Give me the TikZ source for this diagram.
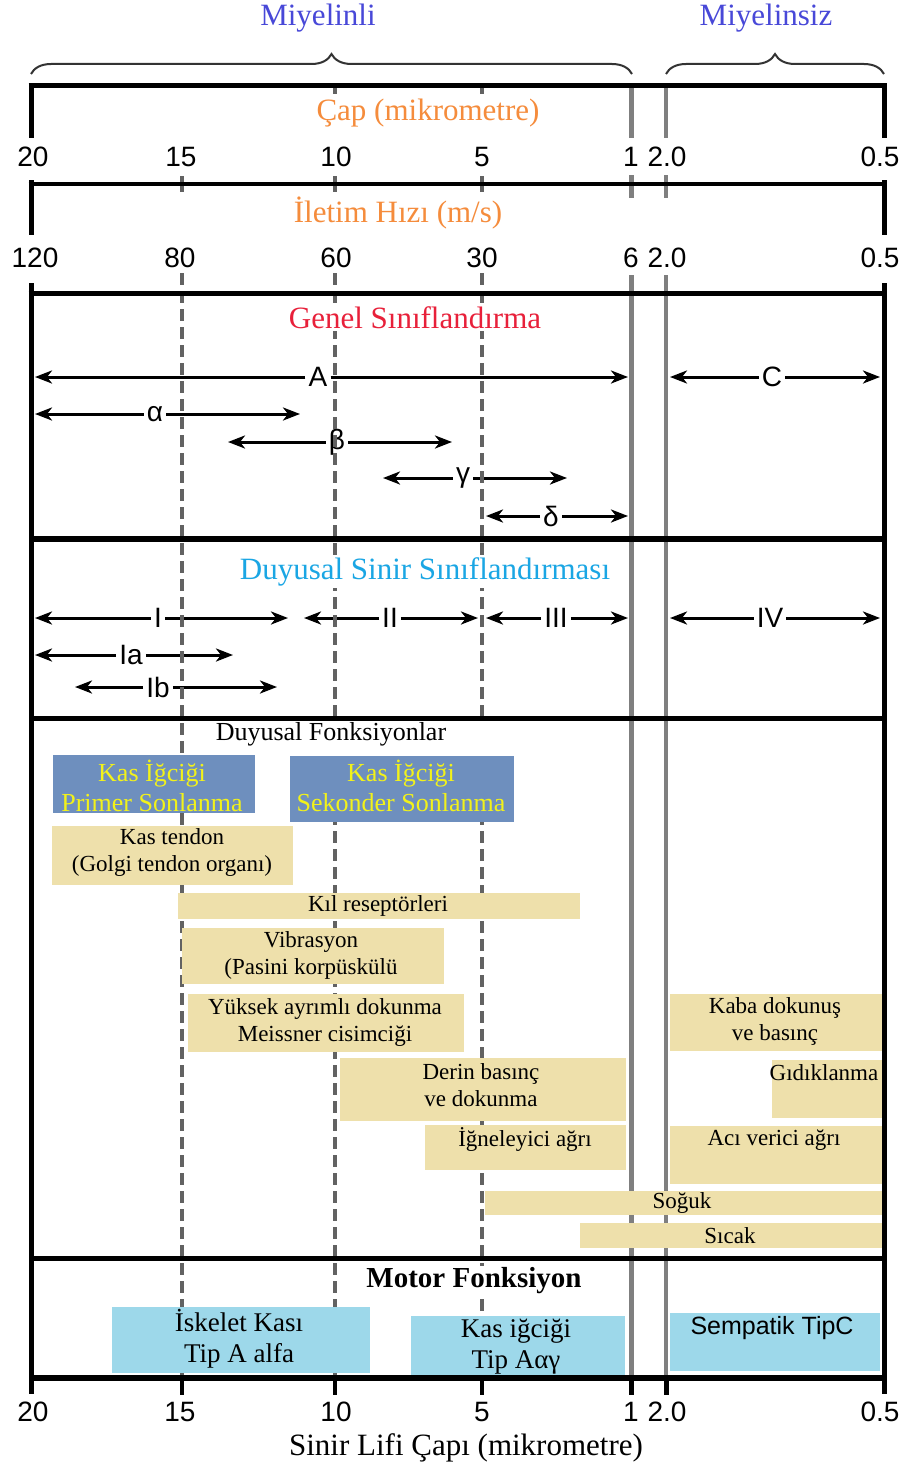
\documentclass[tikz,border=0pt]{standalone}
\usepackage{fontspec}
\setmainfont{Liberation Serif}
\newfontfamily\arialf{Liberation Sans}
\usetikzlibrary{arrows.meta,decorations.pathreplacing}
\definecolor{miy}{HTML}{4848D8}
\definecolor{org}{HTML}{F58C3C}
\definecolor{gred}{HTML}{E8203A}
\definecolor{dcyan}{HTML}{1AA6E4}
\definecolor{sblue}{HTML}{6E8FBE}
\definecolor{ktext}{HTML}{F2F21A}
\definecolor{tanc}{HTML}{EEE0AB}
\definecolor{lcyan}{HTML}{9DD8EA}
\definecolor{gline}{HTML}{7F7F7F}
\definecolor{dline}{HTML}{626262}
\newcommand\harrow[6]{%
  \coordinate (#1L) at (#3,#6);
  \coordinate (#1R) at (#5,#6);
  \node[lab] (#1) at (#4,#6) {#2};
  \draw[arrL] (#1) -- (#1L);
  \draw[arrL] (#1) -- (#1R);
}
\begin{document}
\begin{tikzpicture}[x=1pt,y=-1pt,
  frame/.style={line width=5pt,black},
  gray line/.style={line width=#1,gline},
  dash col/.style={line width=3.5pt,dline,dash pattern=on 12pt off 6pt},
  tick/.style={line width=3.5pt,dline},
  num/.style={font=\arialf\fontsize{28}{30}\selectfont,inner sep=0pt},
  title/.style={font=\fontsize{31}{36}\selectfont,inner xsep=3pt,inner ysep=2pt,fill=white},
  lab/.style={font=\arialf\fontsize{28}{30}\selectfont,inner xsep=3pt,inner ysep=0pt},
  arrL/.style={line width=3pt,-{Stealth[length=17pt,width=13pt,inset=5pt]}},
  bluetxt/.style={font=\fontsize{26}{30}\selectfont,text=ktext,align=center,inner sep=0pt},
  tantxt/.style={font=\fontsize{23}{27}\selectfont,align=center,inner sep=0pt},
  motortxt/.style={font=\fontsize{27}{31}\selectfont,align=center,inner sep=0pt},
  brc/.style={decorate,decoration={brace,amplitude=20pt},line width=2pt,black!80}
]
\useasboundingbox[fill=white] (0,0) rectangle (907,1472);

% ---------- top labels and braces
\node[title,text=miy] (miyelinli) at (318,18) {Miyelinli};
\node[title,text=miy] (miyelinsiz) at (766,18) {Miyelinsiz};
\coordinate (b1L) at (31,74); \coordinate (b1R) at (632,74);
\coordinate (b2L) at (666,74); \coordinate (b2R) at (884,74);
\draw[brc] (b1L) -- (b1R);
\draw[brc] (b2L) -- (b2R);

% ---------- arrows (drawn first, under dashed columns)
\harrow{A}{A}{35}{318}{628}{377}
\harrow{C}{C}{670}{772}{880}{377}
\harrow{al}{α}{35}{155}{300}{414}
\harrow{be}{β}{228}{337}{452}{442}
\harrow{ga}{γ}{383}{463}{567}{478}
\harrow{de}{δ}{486}{551}{628}{516}
\harrow{s1}{I}{35}{158}{288}{618}
\harrow{s2}{II}{304}{390}{478}{618}
\harrow{s3}{III}{486}{556}{628}{618}
\harrow{s4}{IV}{670}{770}{880}{618}
\harrow{sa}{Ia}{35}{131}{233}{655}
\harrow{sb}{Ib}{75}{158}{277}{687}

% ---------- dashed columns
\foreach \x in {182,335,482}{
  \draw[tick] (\x,176) -- (\x,192);
  \draw[dash col] (\x,273) -- (\x,1378);
}
\foreach \x in {335,482}{ \draw[tick] (\x,85) -- (\x,94); }

% ---------- gray vertical lines
\foreach \x/\w in {631/5pt,666/4pt}{
  \draw[gray line=\w] (\x,85) -- (\x,138);
  \draw[gray line=\w] (\x,175) -- (\x,198);
  \draw[gray line=\w] (\x,275) -- (\x,1378);
}

% ---------- section titles (white background hides the dashed columns)
\node[title,text=gred] (genel) at (415,318) {Genel Sınıflandırma};
\node[title,text=dcyan] (duyusal) at (425,572) {Duyusal Sinir Sınıflandırması};
\fill[white] (200,721) rectangle (520,755);
\node[font=\fontsize{26}{30}\selectfont,inner sep=0pt] (dfonk) at (331,734) {Duyusal Fonksiyonlar};

% ---------- frame
\draw[frame] (28.5,85) -- (886.5,85);
\draw[frame] (31,85) -- (31,138);
\draw[frame] (884,85) -- (884,138);
\draw[line width=4pt] (28.5,184) -- (886.5,184);
\draw[frame] (31,180) -- (31,235);
\draw[frame] (884,180) -- (884,235);
\draw[frame] (28.5,293) -- (886.5,293);
\draw[frame] (31,283) -- (31,1394);
\draw[frame] (884,283) -- (884,1394);
\draw[line width=6pt] (31,539) -- (884,539);
\draw[frame] (31,718) -- (884,718);
\draw[frame] (31,1258) -- (884,1258);

% ---------- scale labels
\node[title,text=org] (cap) at (428,113) {Çap (mikrometre)};
\node[num] (n20) at (33,157) {20};
\node[num] (n15) at (181,157) {15};
\node[num] (n10) at (336,157) {10};
\node[num] (n5) at (482,157) {5};
\node[num] (n1) at (631,157) {1};
\node[num] (n2) at (667,157) {2.0};
\node[num] (n05) at (880,157) {0.5};

\node[title,text=org] (hiz) at (398,213) {İletim Hızı (m/s)};
\node[num] (v120) at (35,258) {120};
\node[num] (v80) at (180,258) {80};
\node[num] (v60) at (336,258) {60};
\node[num] (v30) at (482,258) {30};
\node[num] (v6) at (631,258) {6};
\node[num] (v2) at (667,258) {2.0};
\node[num] (v05) at (880,258) {0.5};

% ---------- sensory functions
\fill[sblue] (53,755) rectangle (255,813);
\node[bluetxt] (prim) at (152,786) {Kas İğciği\\Primer Sonlanma};
\fill[sblue] (290,756) rectangle (514,822);
\node[bluetxt] (sek) at (401,786) {Kas İğciği\\Sekonder Sonlanma};

\fill[tanc] (52,826) rectangle (293,885);
\node[tantxt] (golgi) at (172,852) {Kas tendon\\(Golgi tendon organı)};
\fill[tanc] (178,893) rectangle (580,919);
\node[tantxt] (kil) at (378,906) {Kıl reseptörleri};
\fill[tanc] (182,928) rectangle (444,984);
\node[tantxt] (vib) at (311,955) {Vibrasyon\\(Pasini korpüskülü};
\fill[tanc] (188,994) rectangle (464,1052);
\node[tantxt] (yuk) at (325,1022) {Yüksek ayrımlı dokunma\\Meissner cisimciği};
\fill[tanc] (670,994) rectangle (882,1051);
\node[tantxt] (kaba) at (775,1021) {Kaba dokunuş\\ve basınç};
\fill[tanc] (340,1058) rectangle (626,1121);
\node[tantxt] (derin) at (481,1085) {Derin basınç\\ve dokunma};
\fill[tanc] (772,1060) rectangle (882,1118);
\node[tantxt] (gidik) at (824,1073) {Gıdıklanma};
\fill[tanc] (425,1125) rectangle (626,1170);
\node[tantxt] (igne) at (525,1139) {İğneleyici ağrı};
\fill[tanc] (670,1126) rectangle (882,1184);
\node[tantxt] (aci) at (774,1140) {Acı verici ağrı};
\fill[tanc] (485,1191) rectangle (882,1215);
\node[tantxt] (soguk) at (682,1203) {Soğuk};
\fill[tanc] (580,1223) rectangle (882,1248);
\node[tantxt] (sicak) at (730,1236) {Sıcak};

% ---------- motor
\node[font=\bfseries\fontsize{29}{34}\selectfont,inner xsep=3pt,inner ysep=2pt,fill=white] (motor) at (474,1281) {Motor Fonksiyon};
\fill[lcyan] (112,1307) rectangle (370,1373);
\node[motortxt] (iskelet) at (239,1339) {İskelet Kası\\Tip A alfa};
\fill[lcyan] (411,1316) rectangle (625,1378);
\node[motortxt] (kasig) at (516,1347) {Kas iğciği\\Tip Aαγ};
\fill[lcyan] (670,1313) rectangle (880,1371);
\node[font=\arialf\fontsize{25}{30}\selectfont,inner sep=0pt] (semp) at (772,1328) {Sempatik TipC};

% bottom line and ticks
\draw[line width=6pt] (31,1378) -- (884,1378);
\foreach \x/\w in {182/3.5pt,335/3.5pt,482/3.5pt,631/5pt,666/5pt}{
  \draw[line width=\w] (\x,1378) -- (\x,1395);
}

% ---------- bottom axis
\node[num] (b20) at (33,1412) {20};
\node[num] (b15) at (180,1412) {15};
\node[num] (b10) at (336,1412) {10};
\node[num] (b5) at (482,1412) {5};
\node[num] (b1) at (631,1412) {1};
\node[num] (b2) at (667,1412) {2.0};
\node[num] (b05) at (880,1412) {0.5};
\node[title] (axis) at (466,1448) {Sinir Lifi Çapı (mikrometre)};
\end{tikzpicture}
\end{document}
